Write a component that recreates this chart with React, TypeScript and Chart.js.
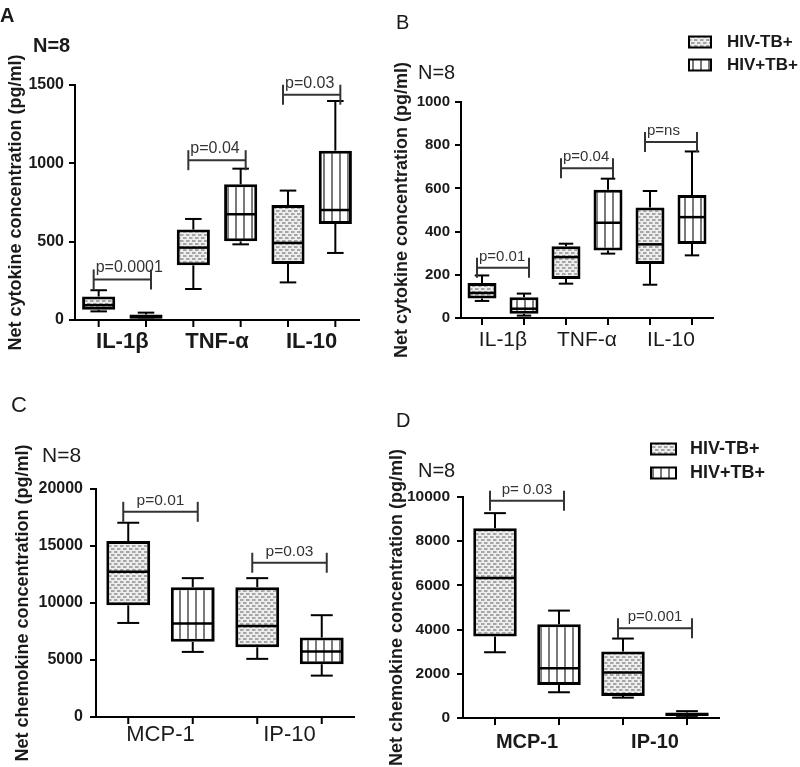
import React, { useEffect, useRef } from 'react';
import { Chart, registerables } from 'chart.js';

Chart.register(...registerables);

// ---------- DATA ----------
const seriesNames = ['HIV-TB+', 'HIV+TB+'];

// each entry: [min, Q1, median, Q3, max]
const cytokines = ['IL-1β', 'TNF-α', 'IL-10'];
const aHivNegTbPos = [[55, 65, 95, 150, 190], [198, 349, 462, 577, 645], [240, 357, 492, 734, 826]];
const aHivPosTbPos = [[3, 8, 20, 35, 47], [483, 502, 675, 866, 966], [428, 613, 702, 1081, 1398]];
const aPValues = ['p=0.0001', 'p=0.04', 'p=0.03'];
const aPHeights = [259, 1020, 1438];

const bHivNegTbPos = [[79, 90, 116, 162, 197], [159, 180, 282, 332, 344], [154, 250, 341, 511, 588]];
const bHivPosTbPos = [[11, 20, 43, 96, 113], [298, 312, 441, 594, 645], [290, 343, 467, 569, 771]];
const bPValues = ['p=0.01', 'p=0.04', 'p=ns'];
const bPHeights = [233, 693, 815];

const chemokines = ['MCP-1', 'IP-10'];
const cHivNegTbPos = [[8250, 9800, 12740, 15430, 17040], [5100, 6120, 7990, 11390, 12180]];
const cHivPosTbPos = [[5710, 6590, 8200, 11390, 12180], [3630, 4630, 5740, 6970, 8930]];
const cPValues = ['p=0.01', 'p=0.03'];
const cPHeights = [18000, 13530];

const dHivNegTbPos = [[2975, 3685, 6330, 8590, 9270], [920, 1000, 2055, 3005, 3595]];
const dHivPosTbPos = [[1165, 1495, 2250, 4245, 4860], [40, 90, 170, 250, 310]];
const dPValues = ['p= 0.03', 'p=0.001'];
const dPHeights = [9830, 4060];

const FF = '"Liberation Sans", Arial, Helvetica, sans-serif';
const INK = '#1a1a1a';

type Panel = {
  key: string;
  left: number; top: number; w: number; h: number;
  cats: string[]; neg: number[][]; pos: number[][];
  pLabels: string[]; pHeights: number[];
  yMax: number; yStep: number; yTitle: string;
  padRight: number; padTop: number; yWidth: number; xHeight: number;
  yTickFont: number; yTickPad: number; titleFont: number; titlePad: number;
  xFont: number; xBold: boolean; xPad: number; barPct: number;
  pFont: number; pAlign: 'left' | 'center';
  letter: string; letterFont: string; letterX: number; letterY: number;
  nFont: string; nX: number; nY: number;
  legend?: { x: number; y1: number; y2: number; sw: number; sh: number; tx: number; font: string };
};

const panels: Panel[] = [
  {
    key: 'A', left: 0, top: 0, w: 400, h: 383,
    cats: cytokines, neg: aHivNegTbPos, pos: aHivPosTbPos, pLabels: aPValues, pHeights: aPHeights,
    yMax: 1500, yStep: 500, yTitle: 'Net cytokine concentration (pg/ml)',
    padRight: 41, padTop: 85, yWidth: 75, xHeight: 63,
    yTickFont: 16, yTickPad: 5, titleFont: 18, titlePad: 5,
    xFont: 22, xBold: true, xPad: 9, barPct: 0.7,
    pFont: 16, pAlign: 'left',
    letter: 'A', letterFont: `bold 20px ${FF}`, letterX: 0, letterY: 22,
    nFont: `bold 20px ${FF}`, nX: 33, nY: 52,
  },
  {
    key: 'B', left: 385, top: 0, w: 415, h: 383,
    cats: cytokines, neg: bHivNegTbPos, pos: bHivPosTbPos, pLabels: bPValues, pHeights: bPHeights,
    yMax: 1000, yStep: 200, yTitle: 'Net cytokine concentration (pg/ml)',
    padRight: 87, padTop: 102, yWidth: 76, xHeight: 65,
    yTickFont: 15, yTickPad: 5, titleFont: 18, titlePad: 6,
    xFont: 21, xBold: false, xPad: 10, barPct: 0.69,
    pFont: 15, pAlign: 'left',
    letter: 'B', letterFont: `20px ${FF}`, letterX: 11, letterY: 29,
    nFont: `20px ${FF}`, nX: 33, nY: 79,
    legend: { x: 304, y1: 42, y2: 65, sw: 22, sh: 11, tx: 342, font: `bold 17px ${FF}` },
  },
  {
    key: 'C', left: 0, top: 383, w: 400, h: 384,
    cats: chemokines, neg: cHivNegTbPos, pos: cHivPosTbPos, pLabels: cPValues, pHeights: cPHeights,
    yMax: 20000, yStep: 5000, yTitle: 'Net chemokine concentration (pg/ml)',
    padRight: 46, padTop: 106, yWidth: 96, xHeight: 50,
    yTickFont: 16, yTickPad: 7, titleFont: 18, titlePad: 12,
    xFont: 22, xBold: false, xPad: 5, barPct: 0.68,
    pFont: 15.5, pAlign: 'center',
    letter: 'C', letterFont: `22px ${FF}`, letterX: 11, letterY: 29,
    nFont: `21px ${FF}`, nX: 42, nY: 79,
  },
  {
    key: 'D', left: 385, top: 383, w: 415, h: 384,
    cats: chemokines, neg: dHivNegTbPos, pos: dHivPosTbPos, pLabels: dPValues, pHeights: dPHeights,
    yMax: 10000, yStep: 2000, yTitle: 'Net chemokine concentration (pg/ml)',
    padRight: 81, padTop: 114, yWidth: 78, xHeight: 49,
    yTickFont: 15.5, yTickPad: 7, titleFont: 18, titlePad: 1,
    xFont: 20, xBold: true, xPad: 12, barPct: 0.68,
    pFont: 15, pAlign: 'center',
    letter: 'D', letterFont: `20px ${FF}`, letterX: 11, letterY: 44,
    nFont: `20px ${FF}`, nX: 33, nY: 94,
    legend: { x: 266, y1: 66, y2: 90, sw: 25, sh: 11, tx: 305, font: `bold 18px ${FF}` },
  },
];

function makeDotPattern(ctx: CanvasRenderingContext2D) {
  const c = document.createElement('canvas');
  c.width = 6; c.height = 6;
  const g = c.getContext('2d')!;
  g.fillStyle = '#eeeeee';
  g.fillRect(0, 0, 6, 6);
  g.fillStyle = '#a6a6a6';
  g.fillRect(0, 0, 3, 2);
  g.fillRect(3, 3, 3, 2);
  g.fillStyle = '#c8c8c8';
  g.fillRect(3, 0, 1, 2);
  g.fillRect(0, 3, 1, 2);
  return ctx.createPattern(c, 'repeat')!;
}

function makeLinePattern(ctx: CanvasRenderingContext2D) {
  const c = document.createElement('canvas');
  c.width = 8; c.height = 4;
  const g = c.getContext('2d')!;
  g.fillStyle = '#ffffff';
  g.fillRect(0, 0, 8, 4);
  g.fillStyle = '#7a7a7a';
  g.fillRect(3, 0, 2, 4);
  return ctx.createPattern(c, 'repeat')!;
}

function line(ctx: CanvasRenderingContext2D, x1: number, y1: number, x2: number, y2: number) {
  ctx.beginPath();
  ctx.moveTo(x1, y1);
  ctx.lineTo(x2, y2);
  ctx.stroke();
}

function makePlugin(p: Panel, patterns: CanvasPattern[]) {
  return {
    id: 'boxExtras' + p.key,
    afterDatasetsDraw(chart: any) {
      const ctx: CanvasRenderingContext2D = chart.ctx;
      const ys = chart.scales.y;
      const area = chart.chartArea;
      const stats = [p.neg, p.pos];
      ctx.save();
      ctx.strokeStyle = '#000';
      ctx.lineCap = 'butt';
      chart.data.datasets.forEach((_ds: any, di: number) => {
        const meta = chart.getDatasetMeta(di);
        meta.data.forEach((bar: any, i: number) => {
          const s = stats[di][i];
          const { x, width } = bar.getProps(['x', 'width'], true);
          const half = width / 2;
          const cap = width / 4;
          const yMin = ys.getPixelForValue(s[0]);
          const yQ1 = ys.getPixelForValue(s[1]);
          const yMed = ys.getPixelForValue(s[2]);
          const yQ3 = ys.getPixelForValue(s[3]);
          const yMax = ys.getPixelForValue(s[4]);
          ctx.lineWidth = 2;
          line(ctx, x, yQ3, x, yMax);
          line(ctx, x - cap, yMax, x + cap, yMax);
          line(ctx, x, yQ1, x, yMin);
          line(ctx, x - cap, yMin, x + cap, yMin);
          ctx.lineWidth = 2.5;
          line(ctx, x - half + 1, yMed, x + half - 1, yMed);
          ctx.lineWidth = 2;
          line(ctx, x, area.bottom, x, area.bottom + 7);
        });
      });
      // significance brackets
      const m0 = chart.getDatasetMeta(0);
      const m1 = chart.getDatasetMeta(1);
      ctx.strokeStyle = '#333';
      ctx.fillStyle = '#333';
      ctx.lineWidth = 2;
      ctx.font = `${p.pFont}px ${FF}`;
      ctx.textBaseline = 'alphabetic';
      p.pLabels.forEach((lab, g) => {
        const xl = m0.data[g].x - 5;
        const xr = m1.data[g].x + 5;
        const yl = ys.getPixelForValue(p.pHeights[g]);
        line(ctx, xl, yl, xr, yl);
        line(ctx, xl, yl - 10, xl, yl + 10);
        line(ctx, xr, yl - 10, xr, yl + 10);
        if (p.pAlign === 'left') {
          ctx.textAlign = 'left';
          ctx.fillText(lab, xl + 2, yl - 7);
        } else {
          ctx.textAlign = 'center';
          ctx.fillText(lab, (xl + xr) / 2, yl - 7);
        }
      });
      // panel letter and N
      ctx.fillStyle = INK;
      ctx.textAlign = 'left';
      ctx.font = p.letterFont;
      ctx.fillText(p.letter, p.letterX, p.letterY);
      ctx.font = p.nFont;
      ctx.fillText('N=8', p.nX, p.nY);
      // legend
      if (p.legend) {
        const L = p.legend;
        [L.y1, L.y2].forEach((yc, k) => {
          ctx.fillStyle = patterns[k];
          ctx.fillRect(L.x, yc - L.sh / 2, L.sw, L.sh);
          ctx.strokeStyle = '#000';
          ctx.lineWidth = 2;
          ctx.strokeRect(L.x, yc - L.sh / 2, L.sw, L.sh);
          ctx.fillStyle = INK;
          ctx.font = L.font;
          ctx.textBaseline = 'middle';
          ctx.fillText(seriesNames[k], L.tx, yc);
        });
      }
      ctx.restore();
    },
  };
}

function PanelChart({ p }: { p: Panel }) {
  const ref = useRef<HTMLCanvasElement>(null);
  useEffect(() => {
    const canvas = ref.current!;
    const ctx = canvas.getContext('2d')!;
    const patterns = [makeDotPattern(ctx), makeLinePattern(ctx)];
    const chart = new Chart(canvas, {
      type: 'bar',
      data: {
        labels: p.cats,
        datasets: [p.neg, p.pos].map((st, k) => ({
          label: seriesNames[k],
          data: st.map((s) => [s[1], s[3]]),
          backgroundColor: patterns[k],
          borderColor: '#000',
          borderWidth: 3,
          borderSkipped: false,
          categoryPercentage: 1,
          barPercentage: p.barPct,
        })) as any,
      },
      options: {
        responsive: false,
        animation: false,
        layout: { padding: { left: 0, right: p.padRight, top: p.padTop, bottom: 0 } },
        plugins: { legend: { display: false }, tooltip: { enabled: false } },
        scales: {
          x: {
            grid: { display: false, drawTicks: false },
            border: { display: true, color: '#000', width: 2 },
            ticks: {
              color: INK,
              padding: p.xPad,
              maxRotation: 0,
              autoSkip: false,
              font: { family: FF, size: p.xFont, weight: p.xBold ? 'bold' : 'normal' },
            },
            afterFit: (s: any) => { s.height = p.xHeight; },
          },
          y: {
            min: 0,
            max: p.yMax,
            ticks: {
              stepSize: p.yStep,
              color: INK,
              padding: p.yTickPad,
              font: { family: FF, size: p.yTickFont, weight: 'bold' },
              callback: (v: any) => String(v),
            },
            grid: { drawOnChartArea: false, drawTicks: true, tickLength: 6, color: '#000', lineWidth: 2 },
            border: { display: true, color: '#000', width: 2 },
            title: {
              display: true,
              text: p.yTitle,
              color: INK,
              font: { family: FF, size: p.titleFont, weight: 'bold' },
              padding: { top: p.titlePad, bottom: 0 },
            },
            afterFit: (s: any) => { s.width = p.yWidth; },
          },
        },
      } as any,
      plugins: [makePlugin(p, patterns)],
    });
    return () => chart.destroy();
  }, [p]);
  return (
    <canvas
      ref={ref}
      width={p.w}
      height={p.h}
      style={{ position: 'absolute', left: p.left, top: p.top, width: p.w, height: p.h }}
    />
  );
}

export default function App() {
  return (
    <div style={{ position: 'absolute', left: 0, top: 0, width: 800, height: 767, background: '#fff', overflow: 'hidden' }}>
      {panels.map((p) => (
        <PanelChart key={p.key} p={p} />
      ))}
    </div>
  );
}
